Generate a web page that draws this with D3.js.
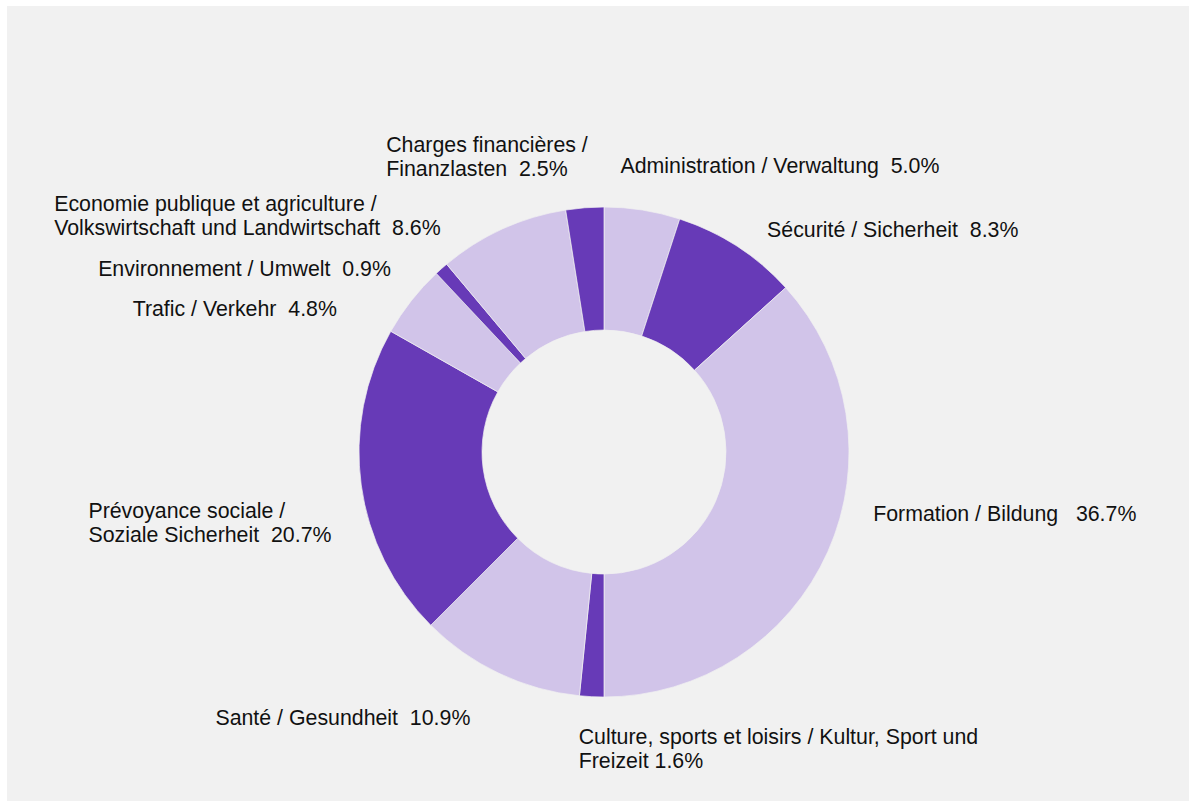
<!DOCTYPE html>
<html>
<head>
<meta charset="utf-8">
<script src="https://cdn.jsdelivr.net/npm/d3@7"></script>
<style>
  body { margin: 0; background: #fff; }
  text { white-space: pre; }
</style>
</head>
<body>
<script>
// shares of expenditure, clockwise from 12 o'clock
let categories = [
  "Administration / Verwaltung",
  "Sécurité / Sicherheit",
  "Formation / Bildung",
  "Culture, sports et loisirs / Kultur, Sport und Freizeit",
  "Santé / Gesundheit",
  "Prévoyance sociale / Soziale Sicherheit",
  "Trafic / Verkehr",
  "Environnement / Umwelt",
  "Economie publique et agriculture / Volkswirtschaft und Landwirtschaft",
  "Charges financières / Finanzlasten"
];
let values = [5.0, 8.3, 36.7, 1.6, 10.9, 20.7, 4.8, 0.9, 8.6, 2.5];

// label text, split in lines; {v} is replaced by the value
let labelLines = [
  ["Administration / Verwaltung  {v}%"],
  ["Sécurité / Sicherheit  {v}%"],
  ["Formation / Bildung   {v}%"],
  ["Culture, sports et loisirs / Kultur, Sport und", "Freizeit {v}%"],
  ["Santé / Gesundheit  {v}%"],
  ["Prévoyance sociale /", "Soziale Sicherheit  {v}%"],
  ["Trafic / Verkehr  {v}%"],
  ["Environnement / Umwelt  {v}%"],
  ["Economie publique et agriculture /", "Volkswirtschaft und Landwirtschaft  {v}%"],
  ["Charges financières /", "Finanzlasten  {v}%"]
];

let width = 1189;
let height = 801;
let cx = 604;
let cy = 452;
let outerR = 245;
let innerR = 122;
let labelR = 265;

// nudges of each label block from its point on the label circle
let labelOffsets = [
  [-25, -23], [19, 1], [27, -45], [-12, 21], [-275, 28],
  [-253, 24], [-263, 22], [-330, 16], [-440, -6], [-197, -42]
];

let colors = ['#d1c4e9', '#673ab7'];
let fmt = d3.format('.1f');

let data = categories.map((c, i) => ({ name: c, value: values[i], i: i }));

let svg = d3.create('svg')
  .attr('width', width)
  .attr('height', height);

svg.append('rect')
  .attr('x', 7)
  .attr('y', 6)
  .attr('width', width - 7)
  .attr('height', height - 6)
  .attr('fill', '#f1f1f1');

let pie = d3.pie()
  .value(d => d.value)
  .sort(null);

let arc = d3.arc()
  .innerRadius(innerR)
  .outerRadius(outerR);

let arcs = pie(data);

let g = svg.append('g')
  .attr('transform', `translate(${cx},${cy})`);

g.selectAll('path')
  .data(arcs)
  .join('path')
  .attr('d', arc)
  .attr('fill', d => colors[d.data.i % 2])
  .attr('stroke', '#f1f1f1')
  .attr('stroke-width', 0.7);

g.selectAll('text.label')
  .data(arcs)
  .join('text')
  .attr('class', 'label')
  .attr('font-family', 'Liberation Sans, Arial, sans-serif')
  .attr('font-size', 21.33)
  .attr('fill', '#111')
  .attr('dominant-baseline', 'middle')
  .each(function(d) {
    let a = (d.startAngle + d.endAngle) / 2;
    let off = labelOffsets[d.data.i];
    let x = labelR * Math.sin(a) + off[0];
    let y = -labelR * Math.cos(a) + off[1];
    let lines = labelLines[d.data.i];
    d3.select(this).selectAll('tspan')
      .data(lines)
      .join('tspan')
      .attr('x', x)
      .attr('y', (l, k) => y + k * 24)
      .text(l => l.replace('{v}', fmt(d.data.value)));
  });

document.body.append(svg.node());
</script>
</body>
</html>
